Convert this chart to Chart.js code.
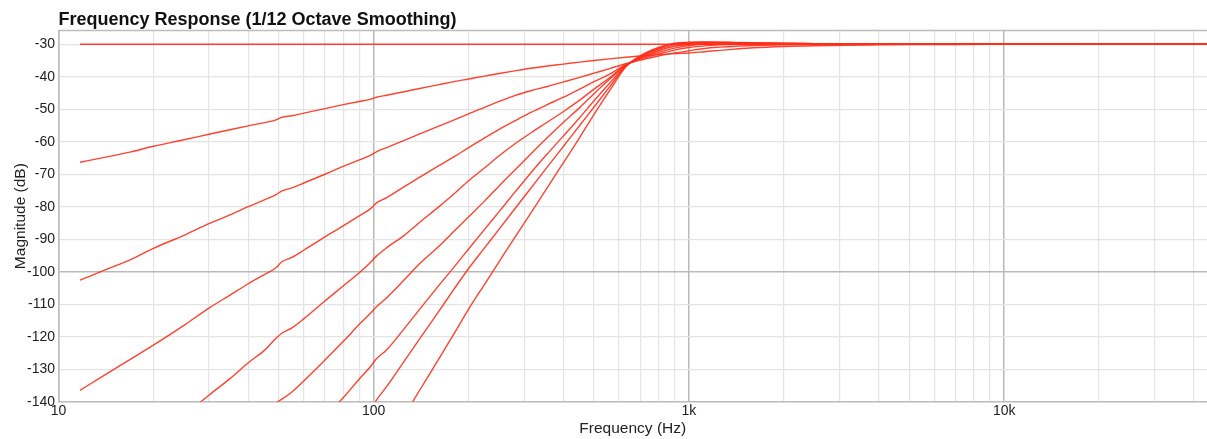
<!DOCTYPE html>
<html>
<head>
<meta charset="utf-8">
<script src="https://cdn.jsdelivr.net/npm/chart.js@4.4.1/dist/chart.umd.min.js"></script>
<style>
  html, body { margin: 0; padding: 0; background: #ffffff; }
  #wrap { width: 1207px; height: 439px; }
</style>
</head>
<body>
<div id="wrap"><canvas id="fr" width="1207" height="439"></canvas></div>
<script>
// Frequency grid (Hz) shared by all traces
const freqHz = [11.7, 14, 17, 20, 25, 30, 35, 40, 45, 49, 51, 55, 60, 70, 80, 90, 98, 102, 110, 125,
  140, 160, 180, 200, 225, 250, 280, 315, 355, 400, 450, 500, 560, 630, 700, 800, 900, 1000, 1120, 1250,
  1400, 1600, 2000, 2500, 3150, 4000, 5000, 7000, 10000, 20000, 44000];

// Magnitude (dB) per trace; null = below the plotted range
const flatRef = [-30, -30, -30, -30, -30, -30, -30, -30, -30, -30, -30, -30, -30, -30, -30, -30, -30, -30, -30, -30,
  -30, -30, -30, -30, -30, -30, -30, -30, -30, -30, -30, -30, -30, -30, -30, -30, -30, -30, -30, -30,
  -30, -30, -30, -30, -30, -30, -30, -30, -30, -30, -30];
const order1 = [-66.3, -64.8, -63.1, -61.4, -59.4, -57.7, -56.3, -55.1, -54.1, -53.3, -52.5, -52.0, -51.2, -49.8, -48.6, -47.6, -46.9, -46.3, -45.7, -44.6,
  -43.6, -42.5, -41.5, -40.7, -39.8, -39.0, -38.2, -37.4, -36.7, -36.1, -35.5, -35.0, -34.5, -34.0, -33.6, -33.2, -32.9, -32.7, -32.3, -31.9,
  -31.5, -31.1, -30.7, -30.45, -30.3, -30.2, -30.12, -30.06, -30.03, -30, -30];
const order2 = [-102.6, -99.5, -96.2, -92.8, -88.8, -85.2, -82.5, -80.0, -77.9, -76.3, -75.2, -74.2, -72.7, -70.0, -67.6, -65.6, -64.1, -63.1, -61.8, -59.6,
  -57.6, -55.3, -53.3, -51.4, -49.4, -47.6, -45.8, -44.3, -43.0, -41.6, -40.2, -38.9, -37.5, -36.0, -34.9, -33.6, -32.7, -32.0, -31.3, -30.9,
  -30.6, -30.4, -30.2, -30.1, -30.05, -30.02, -30, -30, -30, -30, -30];
const order3 = [-136.5, -131.8, -126.8, -122.6, -116.5, -111.2, -107.2, -103.7, -100.9, -98.8, -97.0, -95.6, -93.4, -89.3, -85.9, -82.8, -80.5, -78.8, -77.2, -73.8,
  -70.9, -67.5, -64.6, -61.8, -58.8, -56.2, -53.6, -51.0, -48.6, -46.3, -43.8, -41.5, -39.2, -36.3, -34.6, -33.0, -31.8, -31.0, -30.5, -30.2,
  -30.0, -29.95, -29.95, -29.97, -30, -30, -30, -30, -30, -30, -30];
const order4 = [null, null, null, null, -144.3, -138.0, -132.9, -128.0, -124.2, -120.5, -119.0, -117.3, -114.5, -109.0, -104.4, -100.3, -97.0, -95.2, -92.6, -88.8,
  -84.8, -80.2, -76.0, -72.0, -68.0, -64.3, -60.7, -57.3, -54.0, -50.7, -47.2, -43.8, -40.3, -36.4, -34.4, -32.5, -31.2, -30.4, -30.0, -29.85,
  -29.8, -29.8, -29.85, -29.9, -29.95, -29.98, -30, -30, -30, -30, -30];
const order5 = [null, null, null, null, null, null, null, null, null, -140.3, -139.3, -137.0, -133.6, -127.2, -121.5, -116.2, -112.6, -110.8, -108.0, -102.5,
  -97.5, -92.4, -87.5, -83.1, -78.2, -73.6, -68.8, -63.8, -58.8, -54.0, -49.5, -45.2, -40.8, -36.5, -34.2, -32.0, -30.6, -30.0, -29.75, -29.65,
  -29.65, -29.7, -29.8, -29.88, -29.93, -29.97, -30, -30, -30, -30, -30];
const order6 = [null, null, null, null, null, null, null, null, null, null, null, null, null, -144.5, -138.8, -133.0, -129.0, -126.8, -124.0, -117.5,
  -111.5, -104.5, -98.5, -93.0, -86.9, -81.5, -75.6, -69.6, -63.8, -58.2, -52.6, -47.4, -42.0, -36.7, -34.0, -31.6, -30.2, -29.7, -29.55, -29.5,
  -29.55, -29.65, -29.75, -29.85, -29.92, -29.97, -30, -30, -30, -30, -30];
const order7 = [null, null, null, null, null, null, null, null, null, null, null, null, null, null, null, null, -142.3, -139.5, -135.3, -127.5,
  -120.6, -112.5, -105.3, -99.0, -92.6, -86.9, -80.7, -74.3, -67.8, -61.4, -55.0, -49.3, -43.1, -36.8, -33.8, -31.3, -29.9, -29.5, -29.4, -29.4,
  -29.5, -29.6, -29.72, -29.83, -29.9, -29.96, -30, -30, -30, -30, -30];
const order8 = [null, null, null, null, null, null, null, null, null, null, null, null, null, null, null, null, null, null, null, -144.3,
  -136.4, -127.2, -119.0, -111.5, -103.8, -96.9, -89.5, -82.0, -74.2, -66.4, -58.7, -51.6, -44.3, -37.0, -33.6, -31.0, -29.7, -29.35, -29.3, -29.35,
  -29.45, -29.55, -29.7, -29.8, -29.9, -29.95, -30, -30, -30, -30, -30];

// Axis ticks and labels
const freqGrid = [10, 20, 30, 40, 50, 60, 70, 80, 90, 100, 200, 300, 400, 500, 600, 700, 800, 900,
  1000, 2000, 3000, 4000, 5000, 6000, 7000, 8000, 9000, 10000, 20000, 30000, 40000];
const freqLabelValues = [10, 100, 1000, 10000];
const freqLabelText = ['10', '100', '1k', '10k'];
const levelTicks = [-30, -40, -50, -60, -70, -80, -90, -100, -110, -120, -130, -140];

const traces = [flatRef, order1, order2, order3, order4, order5, order6, order7, order8];

const FONT = '"Liberation Sans", Arial, Helvetica, sans-serif';
const LINE = 'rgba(255, 45, 25, 0.9)';
const GRID_MINOR = '#e4e4e4';
const GRID_MAJOR = '#b9b9b9';

function toPoints(values) {
  const pts = [];
  values.forEach((v, i) => { if (v !== null) pts.push({ x: freqHz[i], y: v }); });
  return pts;
}

// Frame line along the top of the plot area
const topFrame = {
  id: 'topFrame',
  afterDraw(chart) {
    const { ctx, chartArea } = chart;
    ctx.save();
    ctx.strokeStyle = '#bdbdbd';
    ctx.lineWidth = 1.5;
    ctx.beginPath();
    ctx.moveTo(chartArea.left, chartArea.top);
    ctx.lineTo(chartArea.right, chartArea.top);
    ctx.stroke();
    ctx.restore();
  }
};

new Chart(document.getElementById('fr'), {
  type: 'line',
  data: {
    datasets: traces.map(t => ({
      data: toPoints(t),
      borderColor: LINE,
      borderWidth: 1.4,
      pointRadius: 0,
      fill: false,
      cubicInterpolationMode: 'monotone'
    }))
  },
  options: {
    responsive: false,
    animation: false,
    events: [],
    layout: { padding: { left: 0, right: 0, top: 0, bottom: 0 } },
    plugins: {
      legend: { display: false },
      tooltip: { enabled: false },
      title: {
        display: true,
        text: 'Frequency Response (1/12 Octave Smoothing)',
        align: 'start',
        fullSize: false,
        color: '#111111',
        font: { family: FONT, size: 18, weight: 'bold', lineHeight: 1.2 },
        padding: { top: 9, bottom: 0 }
      }
    },
    scales: {
      x: {
        type: 'logarithmic',
        min: 10,
        max: 44000,
        afterBuildTicks(scale) { scale.ticks = freqGrid.map(v => ({ value: v })); },
        afterFit(scale) { scale.height = 37.3; },
        ticks: {
          autoSkip: false,
          maxRotation: 0,
          padding: 1,
          color: '#222222',
          font: { family: FONT, size: 14 },
          callback(value) {
            const k = freqLabelValues.indexOf(value);
            return k >= 0 ? freqLabelText[k] : '';
          }
        },
        grid: {
          drawTicks: false,
          color: ctx => (ctx.tick && freqLabelValues.includes(ctx.tick.value)) ? GRID_MAJOR : GRID_MINOR,
          lineWidth: ctx => (ctx.tick && freqLabelValues.includes(ctx.tick.value)) ? 1.5 : 1.2
        },
        border: { color: '#bdbdbd', width: 1.5 },
        title: {
          display: true,
          text: 'Frequency (Hz)',
          color: '#222222',
          font: { family: FONT, size: 15.5 },
          padding: { top: 0, bottom: 1 }
        }
      },
      y: {
        type: 'linear',
        min: -140,
        max: -25.8,
        afterBuildTicks(scale) { scale.ticks = levelTicks.map(v => ({ value: v })); },
        afterFit(scale) { scale.width = 58.5; },
        ticks: {
          padding: 3.5,
          color: '#222222',
          font: { family: FONT, size: 14 }
        },
        grid: {
          drawTicks: false,
          color: ctx => (ctx.tick && ctx.tick.value === -100) ? GRID_MAJOR : GRID_MINOR,
          lineWidth: ctx => (ctx.tick && ctx.tick.value === -100) ? 1.5 : 1.2
        },
        border: { color: '#bdbdbd', width: 1.5 },
        title: {
          display: true,
          text: 'Magnitude (dB)',
          color: '#222222',
          font: { family: FONT, size: 15.5 },
          padding: { top: 11, bottom: 0 }
        }
      }
    }
  },
  plugins: [topFrame]
});
</script>
</body>
</html>
